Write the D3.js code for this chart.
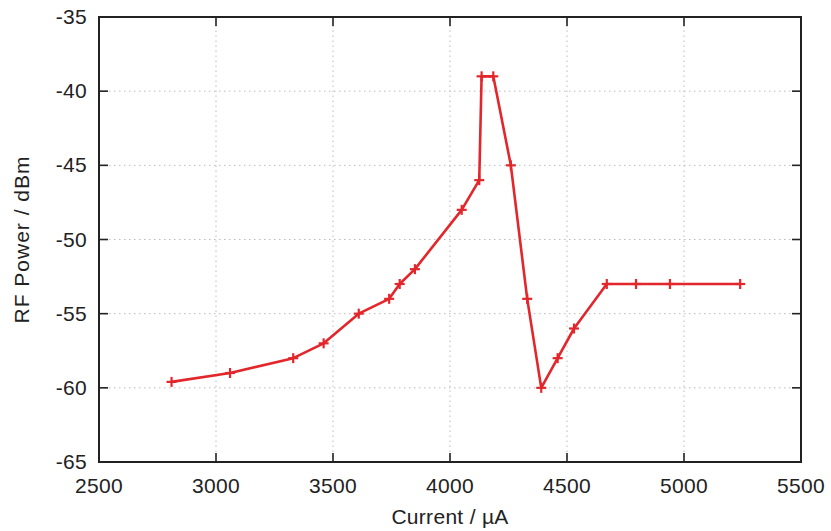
<!DOCTYPE html>
<meta charset="utf-8">
<style>
body { margin: 0; background: #fff; }
text { font-family: "Liberation Sans", Arial, sans-serif; fill: #222; }
.grid line { stroke: #bbb; stroke-dasharray: 1.5,3.5; stroke-width: 1; }
.frame { fill: none; stroke: #222; stroke-width: 2; }
.tick-mark { stroke: #222; stroke-width: 1.6; }
.trace { fill: none; stroke: #e3262b; stroke-width: 2.6; stroke-linejoin: round; }
.mark { stroke: #e3262b; stroke-width: 2.2; }
</style>
<svg width="831" height="531"></svg>
<script src="https://d3js.org/d3.v7.min.js"></script>
<script>

// data
var current = [2810, 3060, 3330, 3460, 3610, 3740, 3785, 3850, 4050, 4125, 4135, 4185,
               4260, 4330, 4390, 4460, 4530, 4670, 4795, 4940, 5240];
var power   = [-59.6, -59, -58, -57, -55, -54, -53, -52, -48, -46, -39, -39,
               -45, -54, -60, -58, -56, -53, -53, -53, -53];
var xTicks = [2500, 3000, 3500, 4000, 4500, 5000, 5500];
var yTicks = [-65, -60, -55, -50, -45, -40, -35];

var svg = d3.select("svg"),
    margin = {left: 99, right: 30, top: 17, bottom: 69},
    W = +svg.attr("width"), H = +svg.attr("height");

var x = d3.scaleLinear().domain([2500, 5500]).range([margin.left, W - margin.right]);
var y = d3.scaleLinear().domain([-65, -35]).range([H - margin.bottom, margin.top]);

var x0 = x.range()[0], x1 = x.range()[1], y0 = y.range()[0], y1 = y.range()[1];
var tl = 9;

// grid
var grid = svg.append("g").attr("class", "grid");
grid.selectAll(".gx").data(xTicks.slice(1, -1)).enter().append("line")
    .attr("x1", d => x(d)).attr("x2", d => x(d)).attr("y1", y0).attr("y2", y1);
grid.selectAll(".gy").data(yTicks.slice(1, -1)).enter().append("line")
    .attr("y1", d => y(d)).attr("y2", d => y(d)).attr("x1", x0).attr("x2", x1);

// ticks on all four sides, pointing inward
var tk = svg.append("g");
xTicks.forEach(function(d) {
  tk.append("line").attr("class", "tick-mark")
    .attr("x1", x(d)).attr("x2", x(d)).attr("y1", y0).attr("y2", y0 - tl);
  tk.append("line").attr("class", "tick-mark")
    .attr("x1", x(d)).attr("x2", x(d)).attr("y1", y1).attr("y2", y1 + tl);
});
yTicks.forEach(function(d) {
  tk.append("line").attr("class", "tick-mark")
    .attr("y1", y(d)).attr("y2", y(d)).attr("x1", x0).attr("x2", x0 + tl);
  tk.append("line").attr("class", "tick-mark")
    .attr("y1", y(d)).attr("y2", y(d)).attr("x1", x1).attr("x2", x1 - tl);
});

svg.append("rect").attr("class", "frame")
    .attr("x", x0).attr("y", y1).attr("width", x1 - x0).attr("height", y0 - y1);

// tick labels
svg.append("g").selectAll("text").data(xTicks).enter().append("text")
    .attr("x", d => x(d)).attr("y", y0 + 31)
    .attr("text-anchor", "middle").style("font-size", "21px")
    .style("letter-spacing", "0.3px")
    .text(d => d);
svg.append("g").selectAll("text").data(yTicks).enter().append("text")
    .attr("x", x0 - 12).attr("y", d => y(d) + 7)
    .attr("text-anchor", "end").style("font-size", "21px")
    .style("letter-spacing", "0.3px")
    .text(d => d);

// axis titles
svg.append("text")
    .attr("x", (x0 + x1) / 2).attr("y", 524)
    .attr("text-anchor", "middle").style("font-size", "21px")
    .style("letter-spacing", "0.3px")
    .text("Current / \u00b5A");
svg.append("text")
    .attr("transform", "translate(29," + ((y0 + y1) / 2) + ") rotate(-90)")
    .attr("text-anchor", "middle").style("font-size", "21px")
    .style("letter-spacing", "1px")
    .text("RF Power / dBm");

// series
var pts = current.map((c, i) => [c, power[i]]);
svg.append("path").attr("class", "trace")
    .attr("d", d3.line().x(d => x(d[0])).y(d => y(d[1]))(pts));

var m = 5;
var marks = svg.append("g").selectAll("g").data(pts).enter().append("g")
    .attr("transform", d => "translate(" + x(d[0]) + "," + y(d[1]) + ")");
marks.append("line").attr("class", "mark").attr("x1", -m).attr("x2", m);
marks.append("line").attr("class", "mark").attr("y1", -m).attr("y2", m);

</script>
